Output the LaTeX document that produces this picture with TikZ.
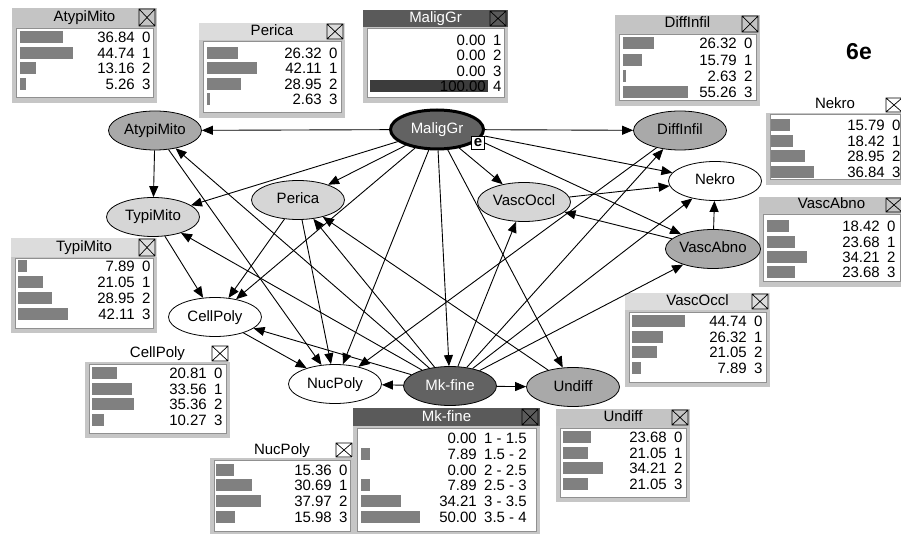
\documentclass[tikz,border=0pt]{standalone}
\usepackage{fontspec}
\setmainfont{Liberation Sans}
\usetikzlibrary{shapes.geometric,arrows.meta}

\definecolor{barfillc}{HTML}{808080}
\definecolor{barblackc}{HTML}{3C3C3C}
\definecolor{titlemid}{HTML}{C4C4C4}
\definecolor{titlepale}{HTML}{DCDCDC}
\definecolor{titledark}{HTML}{5A5A5A}
\definecolor{framegray}{HTML}{C6C6C6}
\definecolor{framedark}{HTML}{909090}
\definecolor{nodedark}{HTML}{626262}
\definecolor{nodemid}{HTML}{A9A9A9}
\definecolor{nodelight}{HTML}{D6D6D6}

\tikzset{
  var/.style={ellipse, draw=black, line width=0.8pt, minimum width=93pt,
    minimum height=39pt, inner sep=0pt, text height=11pt, text depth=3pt,
    font=\fontsize{15}{15}\selectfont},
  vardark/.style={var, fill=nodedark, text=white},
  varmid/.style={var, fill=nodemid},
  varlight/.style={var, fill=nodelight},
  varwhite/.style={var, fill=white},
  link/.style={line width=0.9pt, -{Triangle[length=11pt,width=9pt]}},
  barmid/.style={fill=titlemid},
  barpale/.style={fill=titlepale},
  bardark/.style={fill=titledark},
  barnone/.style={},
  ttlblack/.style={text=black},
  ttlwhite/.style={text=white},
  boxtxt/.style={inner sep=0pt, text height=11pt, text depth=3pt,
    font=\fontsize{15}{15}\selectfont},
  numtxt/.style={inner sep=0pt, text height=11pt, text depth=0pt,
    font=\fontsize{15}{15}\selectfont},
  barfill/.style={fill=barfillc},
  barblack/.style={fill=barblackc},
}

% monitor window: id, left, top, right, title bottom, bottom, bar style, title style, title
\newcommand{\monitor}[9]{%
  \path[#7] (#2,#3) rectangle (#4,#5);
  \fill[framegray] (#2,#5) rectangle (#4,#6);
  \filldraw[fill=white, draw=framedark, line width=1pt] ({#2+4},{#5+2}) rectangle ({#4-4},{#6-5});
  \node[boxtxt, #8] (#1-title) at ({(#2+#4)/2},{(#3+#5)/2}) {#9};
  \draw[line width=0.7pt] ({#4-18},{#3+1}) rectangle ({#4-2},{#5-1})
    ({#4-18},{#3+1}) -- ({#4-2},{#5-1})
    ({#4-18},{#5-1}) -- ({#4-2},{#3+1});
}

% monitor rows: id, bar left, first row y, row step, value right edge, bar style, value/state list
\newcommand{\monrows}[7]{%
  \foreach \v/\s [count=\i] in {#7} {%
    \pgfmathsetmacro{\yy}{#3+(\i-1)*#4}%
    \pgfmathsetmacro{\bw}{\v*1.18}%
    \ifdim\v pt>0pt
      \fill[#6] (#2,{\yy-6}) rectangle ({#2+\bw},{\yy+6});
    \fi
    \node[numtxt, anchor=east] (#1-v\i) at (#5,\yy) {\v};
    \node[numtxt, anchor=west] (#1-s\i) at ({#5+7},\yy) {\s};
  }%
}

\begin{document}
\begin{tikzpicture}[x=1pt,y=-1pt]
\clip (0,0) rectangle (901,534);
\fill[white] (0,0) rectangle (901,534);

% monitor windows
\monitor{atypiM}{12}{8}{157}{27}{103}{barmid}{ttlblack}{AtypiMito}
\monrows{atypiM}{20}{37}{15.7}{135}{barfill}{36.84/0,44.74/1,13.16/2,5.26/3}

\monitor{pericaM}{199}{23}{345}{40}{118}{barpale}{ttlblack}{Perica}
\monrows{pericaM}{207}{53}{15.4}{322}{barfill}{26.32/0,42.11/1,28.95/2,2.63/3}

\monitor{mgM}{363}{10}{508}{27}{103}{bardark}{ttlwhite}{MaligGr}
\monrows{mgM}{370}{40}{15.4}{486}{barblack}{0.00/1,0.00/2,0.00/3,100.00/4}

\monitor{diffM}{615}{15}{760}{33}{106}{barmid}{ttlblack}{DiffInfil}
\monrows{diffM}{623}{43.5}{16.1}{737}{barfill}{26.32/0,15.79/1,2.63/2,55.26/3}

\monitor{nekroM}{766}{97}{904}{113}{185}{barnone}{ttlblack}{Nekro}
\monrows{nekroM}{771}{125}{15.7}{885}{barfill}{15.79/0,18.42/1,28.95/2,36.84/3}

\monitor{vabnoM}{759}{197}{904}{213}{287}{barmid}{ttlblack}{VascAbno}
\monrows{vabnoM}{767}{226.5}{15.2}{880}{barfill}{18.42/0,23.68/1,34.21/2,23.68/3}

\monitor{typiM}{11}{238}{157}{257}{333}{barpale}{ttlblack}{TypiMito}
\monrows{typiM}{18}{266.5}{15.7}{135}{barfill}{7.89/0,21.05/1,28.95/2,42.11/3}

\monitor{cellM}{85}{345}{230}{362}{438}{barnone}{ttlblack}{CellPoly}
\monrows{cellM}{92}{373}{15.5}{207}{barfill}{20.81/0,33.56/1,35.36/2,10.27/3}

\monitor{nucM}{210}{442}{354}{458}{536}{barnone}{ttlblack}{NucPoly}
\monrows{nucM}{216}{469.5}{15.8}{332}{barfill}{15.36/0,30.69/1,37.97/2,15.98/3}

\monitor{mkM}{353}{408}{540}{426}{536}{bardark}{ttlwhite}{Mk-fine}
\monrows{mkM}{361}{438}{15.8}{477}{barfill}{0.00/1 - 1.5,7.89/1.5 - 2,0.00/2 - 2.5,7.89/2.5 - 3,34.21/3 - 3.5,50.00/3.5 - 4}

\monitor{undiffM}{556}{409}{690}{426}{502}{barmid}{ttlblack}{Undiff}
\monrows{undiffM}{563}{437}{15.7}{667}{barfill}{23.68/0,21.05/1,34.21/2,21.05/3}

\monitor{voccM}{625}{293}{770}{310}{387}{barpale}{ttlblack}{VascOccl}
\monrows{voccM}{632}{321}{15.7}{747}{barfill}{44.74/0,26.32/1,21.05/2,7.89/3}

% figure tag
\node[inner sep=0pt, font=\bfseries\fontsize{23}{23}\selectfont] (tag) at (859,52) {6e};

% network variables
\node[vardark, line width=3pt] (mg) at (437,129.5) {MaligGr};
\node[draw=black, line width=0.8pt, fill=white, inner sep=0pt, minimum width=13pt,
  minimum height=13pt, font=\bfseries\fontsize{15}{15}\selectfont] (evid) at (478,143) {e};
\node[varmid] (atypi) at (155,130.5) {AtypiMito};
\node[varmid] (diff) at (680,130.5) {DiffInfil};
\node[varwhite] (nekro) at (715,181) {Nekro};
\node[varmid] (vabno) at (713,249) {VascAbno};
\node[varlight] (vocc) at (524,202) {VascOccl};
\node[varlight] (perica) at (298,200) {Perica};
\node[varlight] (typi) at (153,217) {TypiMito};
\node[varwhite] (cell) at (215,317) {CellPoly};
\node[varwhite] (nuc) at (335,384) {NucPoly};
\node[vardark] (mk) at (450,386) {Mk-fine};
\node[varmid] (undiff) at (573,387) {Undiff};

% links from MaligGr (the two on the right leave from its evidence marker)
\draw[link] (mg) -- (atypi);
\draw[link] (mg) -- (diff);
\draw[link] (mg) -- (perica);
\draw[link] (mg) -- (vocc);
\draw[link] (evid.north east) -- (nekro);
\draw[link] (evid.east) -- (vabno);
\draw[link] (mg) -- (mk);
\draw[link] (mg) -- (undiff);
\draw[link] (mg) -- (nuc);
\draw[link] (mg) -- (cell);
\draw[link] (mg) -- (typi);

% links from Mk-fine
\draw[link] (mk) -- (nuc);
\draw[link] (mk) -- (undiff);
\draw[link] (mk) -- (atypi);
\draw[link] (mk) -- (typi);
\draw[link] (mk) -- (cell);
\draw[link] (mk) -- (perica);
\draw[link] (mk) -- (vocc);
\draw[link] (mk) -- (diff);
\draw[link] (mk) -- (nekro);
\draw[link] (mk) -- (vabno);

% remaining links
\draw[link] (atypi) -- (typi);
\draw[link] (atypi) -- (nuc);
\draw[link] (typi) -- (cell);
\draw[link] (perica) -- (cell);
\draw[link] (perica) -- (nuc);
\draw[link] (cell) -- (nuc);
\draw[link] (undiff) -- (perica);
\draw[link] (diff) -- (nuc);
\draw[link] (vabno) -- (nekro);
\draw[link] (vabno) -- (vocc);
\draw[link] (vocc) -- (nekro);
\end{tikzpicture}
\end{document}
